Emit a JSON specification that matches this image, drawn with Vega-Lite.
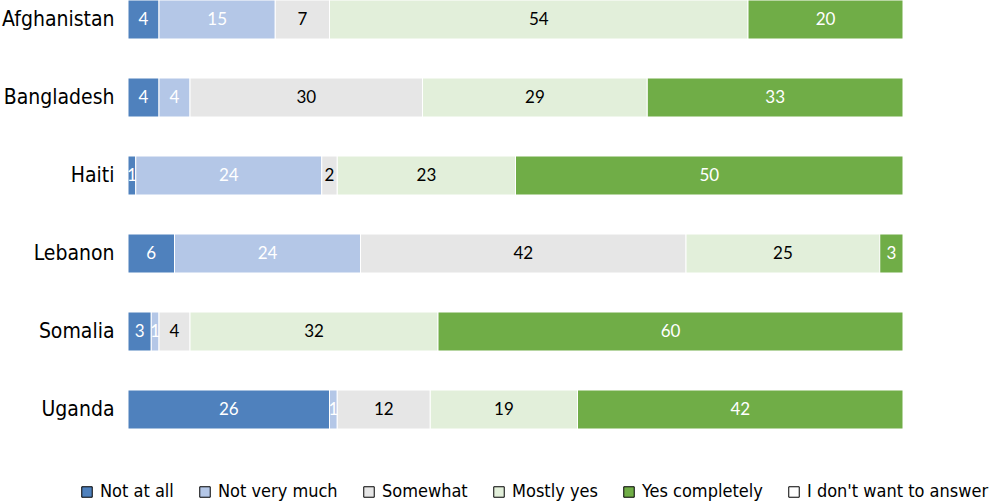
{
  "$schema": "https://vega.github.io/schema/vega-lite/v6.json",
  "width": 775,
  "height": 429,
  "autosize": {"type": "none"},
  "padding": {"left": 128, "top": 0, "right": 97, "bottom": 75},
  "background": "white",
  "config": {"view": {"stroke": null}},
  "data": {
    "values": [
      {"country": "Afghanistan", "cat": "Not at all", "v": 4},
      {"country": "Afghanistan", "cat": "Not very much", "v": 15},
      {"country": "Afghanistan", "cat": "Somewhat", "v": 7},
      {"country": "Afghanistan", "cat": "Mostly yes", "v": 54},
      {"country": "Afghanistan", "cat": "Yes completely", "v": 20},
      {"country": "Bangladesh", "cat": "Not at all", "v": 4},
      {"country": "Bangladesh", "cat": "Not very much", "v": 4},
      {"country": "Bangladesh", "cat": "Somewhat", "v": 30},
      {"country": "Bangladesh", "cat": "Mostly yes", "v": 29},
      {"country": "Bangladesh", "cat": "Yes completely", "v": 33},
      {"country": "Haiti", "cat": "Not at all", "v": 1},
      {"country": "Haiti", "cat": "Not very much", "v": 24},
      {"country": "Haiti", "cat": "Somewhat", "v": 2},
      {"country": "Haiti", "cat": "Mostly yes", "v": 23},
      {"country": "Haiti", "cat": "Yes completely", "v": 50},
      {"country": "Lebanon", "cat": "Not at all", "v": 6},
      {"country": "Lebanon", "cat": "Not very much", "v": 24},
      {"country": "Lebanon", "cat": "Somewhat", "v": 42},
      {"country": "Lebanon", "cat": "Mostly yes", "v": 25},
      {"country": "Lebanon", "cat": "Yes completely", "v": 3},
      {"country": "Somalia", "cat": "Not at all", "v": 3},
      {"country": "Somalia", "cat": "Not very much", "v": 1},
      {"country": "Somalia", "cat": "Somewhat", "v": 4},
      {"country": "Somalia", "cat": "Mostly yes", "v": 32},
      {"country": "Somalia", "cat": "Yes completely", "v": 60},
      {"country": "Uganda", "cat": "Not at all", "v": 26},
      {"country": "Uganda", "cat": "Not very much", "v": 1},
      {"country": "Uganda", "cat": "Somewhat", "v": 12},
      {"country": "Uganda", "cat": "Mostly yes", "v": 19},
      {"country": "Uganda", "cat": "Yes completely", "v": 42}
    ]
  },
  "transform": [
    {"calculate": "indexof(['Not at all','Not very much','Somewhat','Mostly yes','Yes completely',\"I don't want to answer\"], datum.cat)", "as": "ord"},
    {"stack": "v", "groupby": ["country"], "sort": [{"field": "ord", "order": "ascending"}], "as": ["x0", "x1"]},
    {"calculate": "(datum.x0 + datum.x1) / 2", "as": "mid"}
  ],
  "encoding": {
    "y": {
      "field": "country",
      "type": "nominal",
      "sort": null,
      "title": null,
      "scale": {"paddingInner": 0.5, "paddingOuter": 0},
      "axis": {
        "domain": false,
        "ticks": false,
        "labelFont": "Liberation Sans Narrow, DejaVu Sans Condensed, sans-serif",
        "labelFontSize": 21,
        "labelColor": "black",
        "labelPadding": 14
      }
    }
  },
  "layer": [
    {
      "mark": {"type": "bar", "stroke": "white", "strokeWidth": 1},
      "encoding": {
        "x": {"field": "x0", "type": "quantitative", "scale": {"domain": [0, 100], "nice": false}, "axis": null},
        "x2": {"field": "x1"},
        "color": {
          "field": "cat",
          "type": "nominal",
          "scale": {
            "domain": ["Not at all", "Not very much", "Somewhat", "Mostly yes", "Yes completely", "I don't want to answer"],
            "range": ["#4F81BD", "#B4C7E7", "#E6E6E6", "#E2EFDA", "#70AD47", "#FFFFFF"]
          },
          "legend": {
            "title": null,
            "orient": "none",
            "direction": "horizontal",
            "legendX": -50,
            "legendY": 483,
            "symbolType": "square",
            "symbolSize": 110,
            "symbolStrokeColor": "black",
            "symbolStrokeWidth": 1,
            "symbolOpacity": 1,
            "labelFont": "Liberation Sans Narrow, DejaVu Sans Condensed, sans-serif",
            "labelFontSize": 18,
            "labelColor": "black",
            "labelOffset": 4,
            "columnPadding": 22,
            "labelLimit": 300
          }
        }
      }
    },
    {
      "mark": {"type": "text", "font": "Lato, Open Sans, sans-serif", "fontSize": 17, "baseline": "middle", "align": "center"},
      "encoding": {
        "x": {"field": "mid", "type": "quantitative"},
        "text": {"field": "v", "type": "quantitative"},
        "color": {
          "condition": {"test": "datum.cat === 'Somewhat' || datum.cat === 'Mostly yes'", "value": "black"},
          "value": "white"
        }
      }
    }
  ]
}
